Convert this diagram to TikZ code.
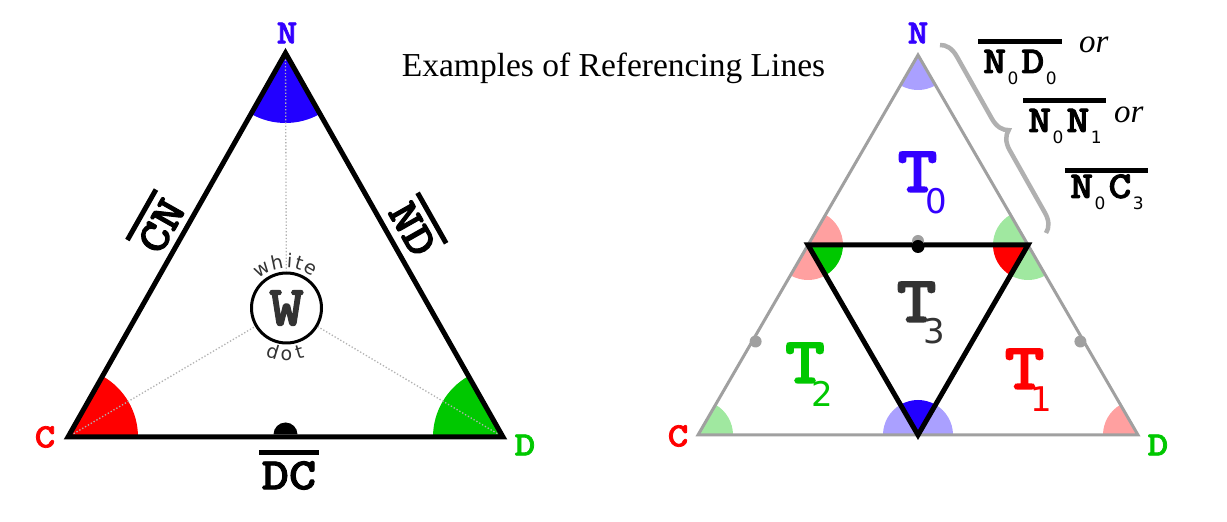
\documentclass[tikz,border=0pt]{standalone}
\usepackage{fontspec}
\usepackage{graphicx}
\setmainfont{Liberation Serif}
\newfontfamily\courbf{lmmonolt10-bold.otf}[FakeBold=2]
\newfontfamily\sansfam{DejaVu Sans}
\newfontfamily\seritalic{Liberation Serif Italic}
\usetikzlibrary{decorations.pathreplacing,calc}
\definecolor{nblue}{RGB}{51,0,255}
\definecolor{sblue}{RGB}{34,0,255}
\definecolor{cred}{RGB}{255,0,0}
\definecolor{dgreen}{RGB}{0,200,0}
\definecolor{lblue}{RGB}{170,160,255}
\definecolor{lred}{RGB}{255,160,160}
\definecolor{lgreen}{RGB}{160,232,160}
\definecolor{edgegray}{RGB}{160,160,160}
\definecolor{txtgray}{RGB}{51,51,51}
\definecolor{bracegray}{RGB}{176,176,176}
\newcommand\sectorfill[5]{\fill[#1] (#2) -- ++(#3:#5) arc[start angle=#3, end angle=#4, radius=#5] -- cycle;}
\newcommand\wide[1]{\scalebox{1.15}[1]{#1}}
\newcommand\lblsub[1]{\hspace{1.5pt}\raisebox{-12pt}{\sansfam\fontsize{17}{17}\selectfont #1}\hspace{3pt}}
\newcommand\ovlabel[2]{\shortstack{\rule{#1}{5pt}\\[3pt]#2}}
\tikzset{
  vlabel/.style={font=\courbf\fontsize{34}{34}\selectfont, inner sep=0},
  sidelabel/.style={font=\courbf\fontsize{45}{45}\selectfont, inner sep=0},
  tbig/.style={font=\courbf\fontsize{66}{66}\selectfont, anchor=base, inner sep=0},
  tsub/.style={font=\sansfam\fontsize{34}{34}\selectfont, anchor=base, inner sep=0},
  wdletter/.style={font=\sansfam\fontsize{19}{19}\selectfont, text=txtgray, inner sep=0, anchor=base},
  reflabel/.style={font=\courbf\fontsize{38}{38}\selectfont, inner sep=0, anchor=base west},
  orlabel/.style={font=\seritalic\fontsize{33}{33}\selectfont, inner sep=0, anchor=base west},
  ovline/.style={line width=5pt},
  tri/.style={line width=5pt, line join=miter},
  outertri/.style={edgegray, line width=3pt, line join=miter},
  dotline/.style={gray!60, dotted, line width=1.3pt},
}
\begin{document}
\begin{tikzpicture}[x=1pt,y=1pt]
\useasboundingbox (0,0) rectangle (1227,522);
\fill[white] (0,0) rectangle (1227,522);

% title
\node[font=\fontsize{33.5}{33.5}\selectfont, inner sep=0, anchor=base] (title) at (613.5,445) {Examples of Referencing Lines};

%%%%% LEFT TRIANGLE
\coordinate (C) at (68,85);
\coordinate (D) at (503,85);
\coordinate (N) at (285.5,469);
\sectorfill{sblue}{N}{240.5}{299.5}{70}
\sectorfill{cred}{C}{0}{60.5}{70}
\sectorfill{dgreen}{D}{119.5}{180}{70}

\node[circle, draw, line width=3pt, minimum size=70pt, inner sep=0, fill=white] (W) at (286.5,214) {};
\node[font=\courbf\fontsize{57}{57}\selectfont, text=txtgray, inner sep=0] (Wl) at (W.center) {\wide{W}};
\draw[dotline] (N) -- (W);
\draw[dotline] (C) -- (W);
\draw[dotline] (D) -- (W);
\foreach \l/\a [count=\i] in {w/32,h/12,i/-4,t/-16,e/-31}
  \node[wdletter, rotate=\a] (wh\i) at ($(W.center)+(90+\a:40)$) {\l};
\foreach \l/\a [count=\i] in {d/-17,o/0,t/16}
  \node[wdletter, rotate=\a] (dt\i) at ($(W.center)+(270+\a:53)$) {\l};

\draw[tri] (C) -- (D) -- (N) -- cycle;
\fill (273.5,87.5) arc[start angle=180, end angle=0, radius=12] -- cycle;

\node[vlabel, text=nblue] (Nl) at (287,489) {\wide{N}};
\node[vlabel, text=cred] (Cl) at (45,85) {\wide{C}};
\node[vlabel, text=dgreen] (Dl) at (525,77) {\wide{D}};

\node[sidelabel, rotate=60.5] (CN) at (156.7,298.7) {\ovlabel{58pt}{\wide{CN}}};
\node[sidelabel, rotate=-60.5] (ND) at (417.3,295.7) {\ovlabel{58pt}{\wide{ND}}};
\node[sidelabel] (DC) at (289,52) {\ovlabel{60pt}{\wide{DC}}};

%%%%% RIGHT TRIANGLE
\coordinate (C2) at (698,87);
\coordinate (D2) at (1138,87);
\coordinate (N2) at (918,467);
\coordinate (MCN) at (808,277);
\coordinate (MND) at (1028,277);
\coordinate (MCD) at (918,87);
\sectorfill{lblue}{N2}{240}{300}{35}
\sectorfill{lred}{MCN}{0}{60}{35}
\sectorfill{lred}{MCN}{240}{300}{35}
\sectorfill{dgreen}{MCN}{300}{360}{35}
\sectorfill{lgreen}{MND}{120}{180}{35}
\sectorfill{cred}{MND}{180}{240}{35}
\sectorfill{lgreen}{MND}{240}{300}{35}
\sectorfill{lblue}{MCD}{0}{60}{35}
\sectorfill{sblue}{MCD}{60}{120}{35}
\sectorfill{lblue}{MCD}{120}{180}{35}
\sectorfill{lgreen}{C2}{0}{60}{35}
\sectorfill{lred}{D2}{120}{180}{35}

\draw[outertri] (C2) -- (D2) -- (N2) -- cycle;
\draw[tri] (MCN) -- (MND) -- (MCD) -- cycle;
\fill[edgegray] (918,281) circle (6);
\fill[black] (918,275.5) circle (6.5);
\fill[edgegray] (755.6,180.5) circle (6);
\fill[edgegray] (1080.4,180.5) circle (6);

\node[vlabel, text=nblue] (N2l) at (918,489) {\wide{N}};
\node[vlabel, text=cred] (C2l) at (678,86) {\wide{C}};
\node[vlabel, text=dgreen] (D2l) at (1158,77) {\wide{D}};

\node[tbig, text=nblue] (T0) at (917.5,330) {\wide{T}};
\node[tsub, text=nblue] (T0s) at (936,308) {0};
\node[tbig, text=txtgray] (T3) at (916.5,200) {\wide{T}};
\node[tsub, text=txtgray] (T3s) at (934,178) {3};
\node[tbig, text=dgreen] (T2) at (805,139) {\wide{T}};
\node[tsub, text=dgreen] (T2s) at (822.5,115) {2};
\node[tbig, text=cred] (T1) at (1024.5,133) {\wide{T}};
\node[tsub, text=cred] (T1s) at (1041.5,110) {1};

% brace
\coordinate (b1) at (940,477);
\coordinate (b2) at (1046,289);
\draw[bracegray, line width=4.5pt, decorate, decoration={brace, amplitude=18pt}] (b1) -- (b2);

% reference labels
\node[reflabel] (r1) at (983,449) {\wide{N}\lblsub{0}\wide{D}\lblsub{0}};
\draw[ovline] (978,480) -- (1062,480);
\node[orlabel] (or1) at (1079,469) {or};
\node[reflabel] (r2) at (1028,390) {\wide{N}\lblsub{0}\wide{N}\lblsub{1}};
\draw[ovline] (1023,421) -- (1106,421);
\node[orlabel] (or2) at (1114,399) {or};
\node[reflabel] (r3) at (1070,324) {\wide{N}\lblsub{0}\wide{C}\lblsub{3}};
\draw[ovline] (1065,351.5) -- (1148,351.5);
\end{tikzpicture}
\end{document}
